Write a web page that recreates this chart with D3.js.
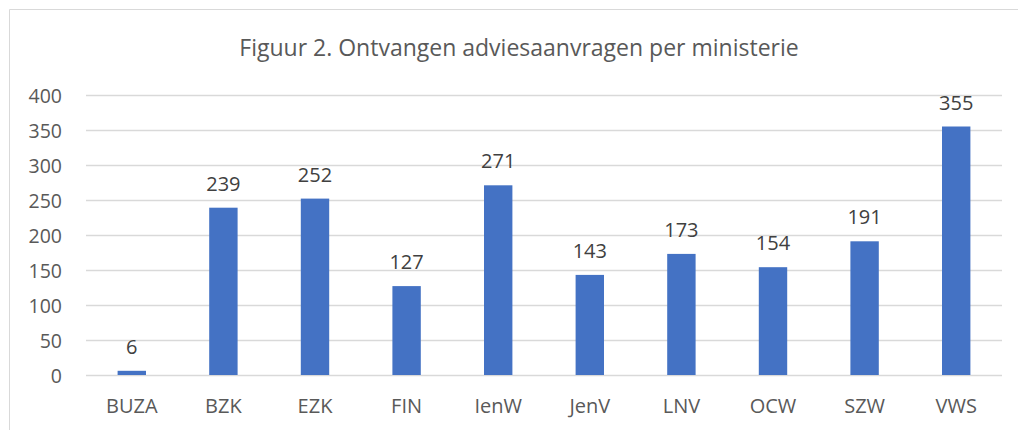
<!DOCTYPE html>
<html><head><meta charset="utf-8">
<script src="https://cdn.jsdelivr.net/npm/d3@7"></script>
<style>body{margin:0;background:#fff}svg{display:block}</style>
</head><body>
<svg id="c" width="1019" height="430"></svg>
<script>
const categories = ["BUZA","BZK","EZK","FIN","IenW","JenV","LNV","OCW","SZW","VWS"];
const values = [6,239,252,127,271,143,173,154,191,355];
const yTicks = [0,50,100,150,200,250,300,350,400];
const title = "Figuur 2. Ontvangen adviesaanvragen per ministerie";

const svg = d3.select("#c");
const font = "'Open Sans', sans-serif";
const m = {left:86, right:1002, top:95, bottom:375};

// frame
svg.append("path").attr("d","M9.5,430 L9.5,9.5 L1018,9.5").attr("fill","none").attr("stroke","#d9d9d9").attr("stroke-width",1);

const x = d3.scaleBand().domain(categories).range([m.left,m.right]).paddingInner(0.69).paddingOuter(0.345);
const y = d3.scaleLinear().domain([0,400]).range([m.bottom,m.top]);

// grid
svg.append("g").selectAll("line").data(yTicks).join("line")
  .attr("x1",m.left).attr("x2",m.right)
  .attr("y1",d=>Math.round(y(d))+0.5).attr("y2",d=>Math.round(y(d))+0.5)
  .attr("stroke","#d9d9d9").attr("stroke-width",1.3);

// y axis labels
const yAxis = d3.axisLeft(y).tickValues(yTicks).tickSize(0).tickPadding(0);
const gy = svg.append("g").attr("transform",`translate(62,0)`).call(yAxis);
gy.select(".domain").remove();
gy.selectAll("text").attr("font-family",font).attr("font-size",19.5).attr("fill","#595959").attr("dy","0.36em");

// bars
svg.append("g").selectAll("rect").data(values).join("rect")
  .attr("x",(d,i)=>x(categories[i])).attr("width",x.bandwidth())
  .attr("y",d=>y(d)).attr("height",d=>y(0)-y(d)).attr("fill","#4472C4");

// data labels
svg.append("g").selectAll("text").data(values).join("text")
  .attr("x",(d,i)=>x(categories[i])+x.bandwidth()/2).attr("y",d=>y(d)-17)
  .attr("text-anchor","middle").attr("font-family",font).attr("font-size",20).attr("fill","#404040")
  .text(d=>d);

// x axis labels
const xAxis = d3.axisBottom(x).tickSize(0).tickPadding(0);
const gx = svg.append("g").attr("transform",`translate(0,413)`).call(xAxis);
gx.select(".domain").remove();
gx.selectAll("text").attr("font-family",font).attr("font-size",20).attr("fill","#595959").attr("dy","0");

// title
svg.append("text").attr("x",519).attr("y",56).attr("text-anchor","middle")
  .attr("font-family",font).attr("font-size",23).attr("fill","#595959").text(title);
</script>
</body></html>
